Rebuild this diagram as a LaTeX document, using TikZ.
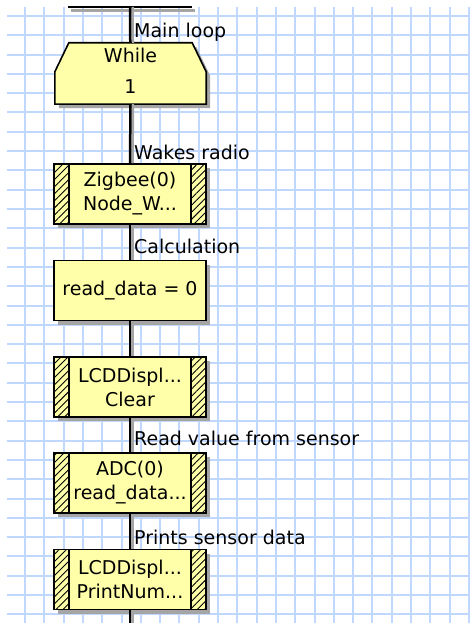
\documentclass[tikz,border=0pt]{standalone}
\usepackage{fontspec}
\setmainfont{DejaVu Sans}
\usetikzlibrary{shadows,patterns.meta}
\definecolor{chartYellow}{RGB}{255,255,170}
\definecolor{chartGrid}{RGB}{192,215,255}
\definecolor{chartShadow}{RGB}{165,165,165}

\begin{document}
\begin{tikzpicture}[x=1pt,y=-1pt,
  every node/.style={font=\fontsize{19}{24}\selectfont},
  gridline/.style={chartGrid,line width=2pt},
  spine/.style={line width=2.5pt,preaction={draw=chartShadow,line width=2.5pt,transform canvas={xshift=2.5pt}}},
  topedge/.style={line width=2.5pt,preaction={draw=chartShadow,line width=3pt,transform canvas={shift={(3pt,-4pt)}}}},
  boxshadow/.style={drop shadow={shadow xshift=4pt,shadow yshift=-4pt,fill=chartShadow,opacity=1}},
  flowbox/.style={draw,line width=1.6pt,fill=chartYellow,minimum width=152pt,minimum height=60pt,inner sep=0pt,align=center,boxshadow},
  macrobox/.style={flowbox,path picture={
    \fill[pattern={Lines[angle=45,distance=5pt,line width=.9pt]},pattern color=black] (path picture bounding box.north west) rectangle ([xshift=15pt]path picture bounding box.south west);
    \fill[pattern={Lines[angle=45,distance=5pt,line width=.9pt]},pattern color=black] (path picture bounding box.north east) rectangle ([xshift=-15pt]path picture bounding box.south east);
    \draw[line width=1.6pt] ([xshift=15pt]path picture bounding box.north west) -- ([xshift=15pt]path picture bounding box.south west);
    \draw[line width=1.6pt] ([xshift=-15pt]path picture bounding box.north east) -- ([xshift=-15pt]path picture bounding box.south east);}},
  note/.style={anchor=west,inner sep=0pt}]
\useasboundingbox (0,0) rectangle (469,623);
\fill[white] (0,0) rectangle (469,623);
\foreach \k in {0,...,23} \draw[gridline] (25+19.3*\k,7) -- (25+19.3*\k,623);
\foreach \k in {0,...,31} \draw[gridline] (7,16+19.3*\k) -- (469,16+19.3*\k);

\draw[topedge] (68,7) -- (192,7);
\coordinate (entry) at (130,7);
\coordinate (exit) at (130,623);

\node[minimum width=151pt,minimum height=61pt,inner sep=0pt] (loop) at (130.5,73.5) {};
\draw[line width=1.6pt,fill=chartYellow,boxshadow] ([xshift=14pt]loop.north west) -- ([xshift=-14pt]loop.north east) -- ([yshift=-29pt]loop.north east) -- (loop.south east) -- (loop.south west) -- ([yshift=-29pt]loop.north west) -- cycle;
\node[align=center,inner sep=0pt] (looptext) at ([yshift=3pt]loop.center) {While\\[7pt]1};

\node[macrobox] (zig) at (130,194) {Zigbee(0)\\Node\_W...};
\node[flowbox] (calc) at (130,290.5) {read\_data = 0};
\node[macrobox] (clear) at (130,387) {LCDDispl...\\Clear};
\node[macrobox] (adc) at (130,483) {ADC(0)\\read\_data...};
\node[macrobox] (pnum) at (130,579.5) {LCDDispl...\\PrintNum...};

\draw[spine] (entry)--(loop);\draw[spine] (loop)--(zig);\draw[spine] (zig)--(calc);\draw[spine] (calc)--(clear);
\draw[spine] (clear)--(adc);\draw[spine] (adc)--(pnum);\draw[spine] (pnum)--(exit);

\node[note] (lblloop) at (134,32) {Main loop};
\node[note] (lblradio) at (134,152) {Wakes radio};
\node[note] (lblcalc) at (134,246) {Calculation};
\node[note] (lblread) at (134,438) {Read value from sensor};
\node[note] (lblprint) at (134,537) {Prints sensor data};
\end{tikzpicture}
\end{document}
